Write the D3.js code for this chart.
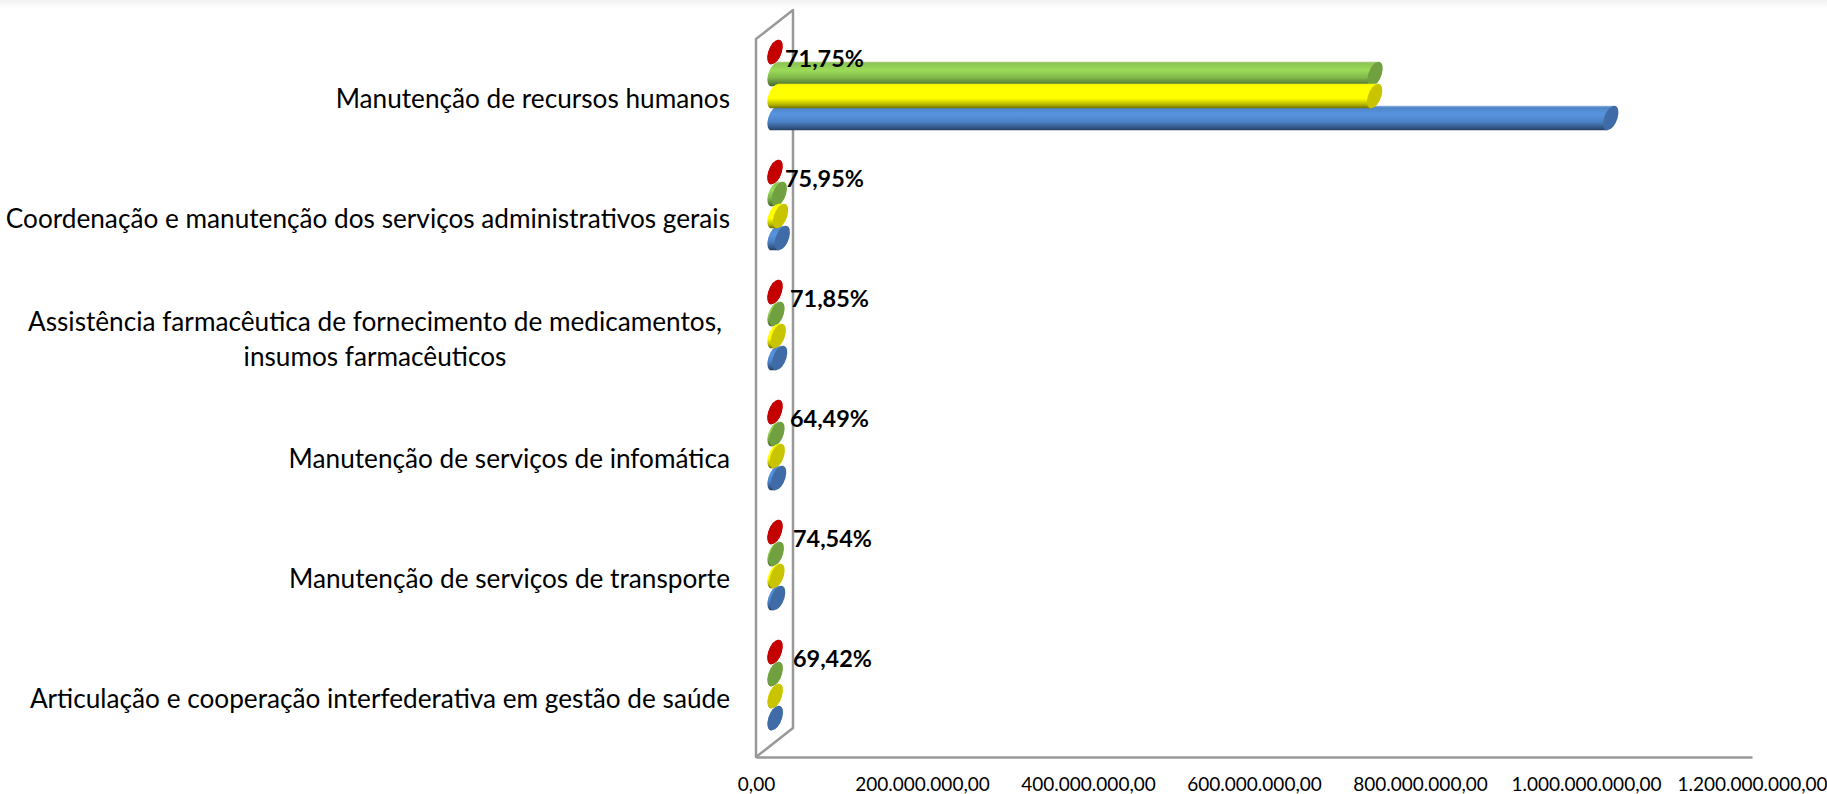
<!DOCTYPE html>
<meta charset="utf-8">
<style>
  body { margin: 0; background: #fff; }
  text { font-family: Lato, "Open Sans", sans-serif; fill: #000; }
  .pct { font-size: 23.4px; font-weight: bold; }
</style>
<script src="https://d3js.org/d3.v7.min.js"></script>
<div id="my_dataviz"></div>
<script>
// data, top category first
var categories = [
  "Manutenção de recursos humanos",
  "Coordenação e manutenção dos serviços administrativos gerais",
  "Assistência farmacêutica de fornecimento de medicamentos,\ninsumos farmacêuticos",
  "Manutenção de serviços de infomática",
  "Manutenção de serviços de transporte",
  "Articulação e cooperação interfederativa em gestão de saúde"
];
var seriesNames = ["red", "green", "yellow", "blue"];
var redValues = [0, 0, 0, 0, 0, 0];
var greenValues = [723000000, 5200000, 2400000, 2400000, 1600000, 300000];
var yellowValues = [722500000, 6700000, 4000000, 2800000, 2400000, 300000];
var blueValues = [1007000000, 8800000, 5600000, 4400000, 3200000, 400000];
var percentLabels = ["71,75%", "75,95%", "71,85%", "64,49%", "74,54%", "69,42%"];
var xTicks = [0, 200000000, 400000000, 600000000, 800000000, 1000000000, 1200000000];

var valuesBySeries = { red: redValues, green: greenValues, yellow: yellowValues, blue: blueValues };

var width = 1827, height = 794;
var x0 = 756, x1 = 1752, floorY = 757, depthX = 37, depthY = 29, wallTop = 39;
var barShift = 19;          // bars sit in the middle of the 3d depth
var ry = 12.3, rx = 6.8, lean = 3.5;

var svg = d3.select("#my_dataviz").append("svg")
  .attr("width", width)
  .attr("height", height)
  .style("display", "block");

var defs = svg.append("defs");

// faint shadow along the top of the screenshot
var shade = defs.append("linearGradient").attr("id", "topShade")
  .attr("x1", 0).attr("y1", 0).attr("x2", 0).attr("y2", 1);
shade.append("stop").attr("offset", 0).attr("stop-color", "#f2f2f2");
shade.append("stop").attr("offset", 1).attr("stop-color", "#ffffff");
svg.append("rect").attr("width", width).attr("height", 9).attr("fill", "url(#topShade)");

// body shading of each cylinder
var bodyStops = {
  red:    [[0, "#c00000"], [1, "#c00000"]],
  green:  [[0, "#a9c97f"], [0.08, "#8cc653"], [0.35, "#9bdb58"], [0.65, "#80b84a"], [0.88, "#5b8236"], [1, "#45632a"]],
  yellow: [[0, "#f4f400"], [0.1, "#ffff00"], [0.6, "#ffff00"], [0.85, "#b3b300"], [1, "#6e6e00"]],
  blue:   [[0, "#9db8dc"], [0.08, "#4f86c8"], [0.35, "#5794de"], [0.65, "#4c82c6"], [0.88, "#35598a"], [1, "#263f60"]]
};
var capColors = { red: "#c40000", green: "#70a040", yellow: "#c9c400", blue: "#3f6ca6" };

seriesNames.forEach(function(name) {
  var g = defs.append("linearGradient").attr("id", "body-" + name)
    .attr("x1", 0).attr("y1", 0).attr("x2", 0).attr("y2", 1);
  bodyStops[name].forEach(function(s) {
    g.append("stop").attr("offset", s[0]).attr("stop-color", s[1]);
  });
});

var x = d3.scaleLinear()
  .domain([0, 1200000000])
  .range([x0, x1]);

var y = d3.scaleBand()
  .domain(categories)
  .range([25, 745]);

var ySeries = d3.scaleBand()
  .domain(seriesNames)
  .range([0, y.bandwidth()])
  .paddingOuter(0.727);

// 3d back wall and floor
svg.append("path")
  .attr("d", "M" + x0 + "," + floorY + "V" + wallTop +
    "L" + (x0 + depthX) + "," + (wallTop - depthY) +
    "V" + (floorY - depthY) + "Z")
  .attr("fill", "none")
  .attr("stroke", "#999")
  .attr("stroke-width", 2.5)
  .attr("stroke-linejoin", "round");

// axes
var ptBR = d3.formatLocale({ decimal: ",", thousands: ".", grouping: [3], currency: ["R$", ""] });

var xAxis = svg.append("g")
  .attr("transform", "translate(0," + floorY + ")")
  .call(d3.axisBottom(x).tickValues(xTicks).tickSize(0).tickPadding(21).tickFormat(ptBR.format(",.2f")));
xAxis.select(".domain").attr("stroke", "#999").attr("stroke-width", 2.5);
xAxis.selectAll("text").style("font-size", "19px").attr("fill", "#000");

var yAxis = svg.append("g")
  .attr("transform", "translate(" + (x0 - 26) + ",15)")
  .call(d3.axisLeft(y).tickSize(0).tickPadding(0));
yAxis.select(".domain").remove();
yAxis.selectAll("text")
  .style("font-size", "26.2px")
  .attr("fill", "#000")
  .each(function(d) {
    // wrapped labels are centred on their longest line
    var lines = d.split("\n");
    if (lines.length < 2) return;
    var t = d3.select(this).text(null).attr("text-anchor", "middle");
    var spans = lines.map(function(line, i) {
      return t.append("tspan").attr("x", 0).attr("dy", i ? "35px" : "-9px").text(line);
    });
    var w = d3.max(spans, function(s) { return s.node().getComputedTextLength(); });
    spans.forEach(function(s) { s.attr("x", -w / 2 - 8); });
  });

// bars, green under blue under yellow like in the original
var drawOrder = ["red", "green", "blue", "yellow"];
var skew = -Math.atan(lean / ry) * 180 / Math.PI;

drawOrder.forEach(function(name) {
  var g = svg.append("g");
  var rows = g.selectAll("g")
    .data(valuesBySeries[name].map(function(v, i) { return { value: v, cat: categories[i] }; }))
    .enter().append("g")
    .attr("transform", function(d) {
      return "translate(0," + (y(d.cat) + ySeries(name) + ySeries.bandwidth() / 2) + ")";
    });

  // left end and body share the shading
  rows.append("ellipse")
    .attr("rx", rx).attr("ry", ry)
    .attr("transform", "translate(" + (x(0) + barShift) + ",0) skewX(" + skew + ")")
    .attr("fill", "url(#body-" + name + ")");

  rows.append("path")
    .attr("d", function(d) {
      var a = x(0) + barShift, b = x(d.value) + barShift;
      return "M" + (a + lean) + "," + (-ry) + "L" + (b + lean) + "," + (-ry) +
        "L" + (b - lean) + "," + ry + "L" + (a - lean) + "," + ry + "Z";
    })
    .attr("fill", "url(#body-" + name + ")");

  rows.append("ellipse")
    .attr("rx", rx).attr("ry", ry)
    .attr("transform", function(d) {
      return "translate(" + (x(d.value) + barShift) + ",0) skewX(" + skew + ")";
    })
    .attr("fill", capColors[name]);
});

// the percent labels were dragged by hand in the original
var labelShift = [0, 0, 5, 5, 8, 8];

svg.append("g").selectAll("text")
  .data(percentLabels)
  .enter().append("text")
  .attr("class", "pct")
  .attr("x", function(d, i) { return x(0) + 29 + labelShift[i]; })
  .attr("y", function(d, i) { return y(categories[i]) + y.bandwidth() / 2 - 26; })
  .attr("dy", "0.35em")
  .text(function(d) { return d; });
</script>
